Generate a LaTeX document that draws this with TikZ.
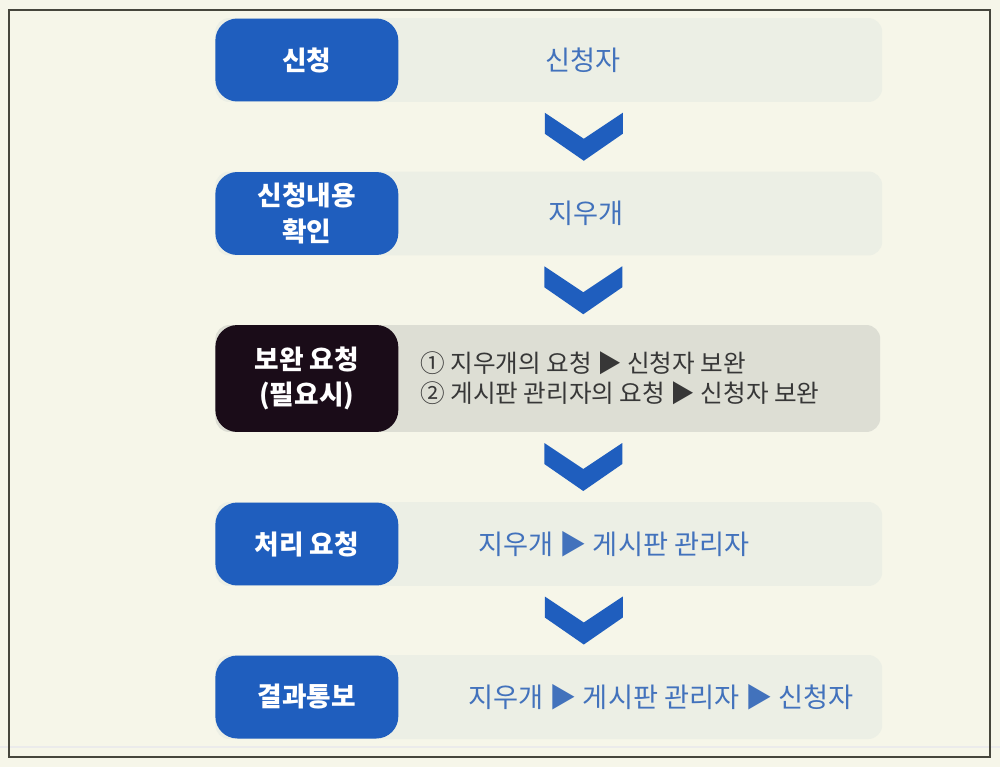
\documentclass[tikz,border=0pt]{standalone}
\usepackage{fontspec}
\setmainfont{Noto Sans CJK KR}
\usetikzlibrary{positioning, calc}
\definecolor{bgcream}{RGB}{246,246,233}
\definecolor{barbg}{RGB}{236,239,229}
\definecolor{barbgdark}{RGB}{221,222,212}
\definecolor{stepblue}{RGB}{31,94,190}
\definecolor{stepdark}{RGB}{26,12,24}
\definecolor{textblue}{RGB}{66,114,188}
\definecolor{textgray}{RGB}{55,55,55}
\definecolor{framegray}{RGB}{70,70,60}

\begin{document}
\begin{tikzpicture}[x=0.02cm, y=-0.02cm,
    stepbar/.style={rounded corners=0.28cm, fill=barbg, minimum width=13.34cm, minimum height=1.68cm, anchor=west, inner sep=0pt},
    steplabel/.style={rounded corners=0.44cm, fill=stepblue, text=white, font=\bfseries\fontsize{15.2}{20}\selectfont, minimum width=3.66cm, minimum height=1.66cm, anchor=west, align=center, inner sep=0pt},
    bartext/.style={text=textblue, font=\fontsize{15.5}{18}\selectfont, anchor=west, inner sep=0pt},
    chevron/.pic={\fill[stepblue] (-39,-24) -- (0,2) -- (39,-24) -- (39,-3) -- (0,24) -- (-39,-3) -- cycle;}
]
    % Fond et cadre
    \fill[bgcream] (0,0) rectangle (1000,767);
    \useasboundingbox (0,0) rectangle (1000,767);
    \draw[black!8, line width=0.6pt] (0,747) -- (1000,747);
    \draw[framegray, line width=1.1pt] (9,10) rectangle (990,757);

    % === Etape 1 ===
    \node[stepbar] (bar1) at (215,60) {};
    \node[steplabel] (lab1) at (215,60) {신청};
    \node[bartext] (txt1) at (545,60) {신청자};

    % === Etape 2 ===
    \node[stepbar] (bar2) at (215,213.5) {};
    \node[steplabel] (lab2) at (215,213.5) {신청내용\\확인};
    \node[bartext] (txt2) at (548,213.5) {지우개};

    % === Etape 3 (sombre) ===
    \node[stepbar, fill=barbgdark, minimum height=2.14cm, minimum width=13.3cm] (bar3) at (215,378.5) {};
    \node[steplabel, fill=stepdark, minimum height=2.14cm] (lab3) at (215,378.5) {보완 요청\\(필요시)};
    \node[bartext, text=textgray, font=\fontsize{14}{17}\selectfont, align=left] (txt3) at (420,378.5) {① 지우개의 요청 ▶ 신청자 보완\\② 게시판 관리자의 요청 ▶ 신청자 보완};

    % === Etape 4 ===
    \node[stepbar] (bar4) at (215,544) {};
    \node[steplabel] (lab4) at (215,544) {처리 요청};
    \node[bartext] (txt4) at (478,544) {지우개 ▶ 게시판 관리자};

    % === Etape 5 ===
    \node[stepbar] (bar5) at (215,697) {};
    \node[steplabel] (lab5) at (215,697) {결과통보};
    \node[bartext] (txt5) at (468,697) {지우개 ▶ 게시판 관리자 ▶ 신청자};

    % Chevrons
    \pic at ($(bar1.south)!0.5!(bar2.north)+(35,0)$) {chevron};
    \pic at ($(bar2.south)!0.5!(bar3.north)+(35,0)$) {chevron};
    \pic at ($(bar3.south)!0.5!(bar4.north)+(35,0)$) {chevron};
    \pic at ($(bar4.south)!0.5!(bar5.north)+(35,0)$) {chevron};
\end{tikzpicture}
\end{document}
